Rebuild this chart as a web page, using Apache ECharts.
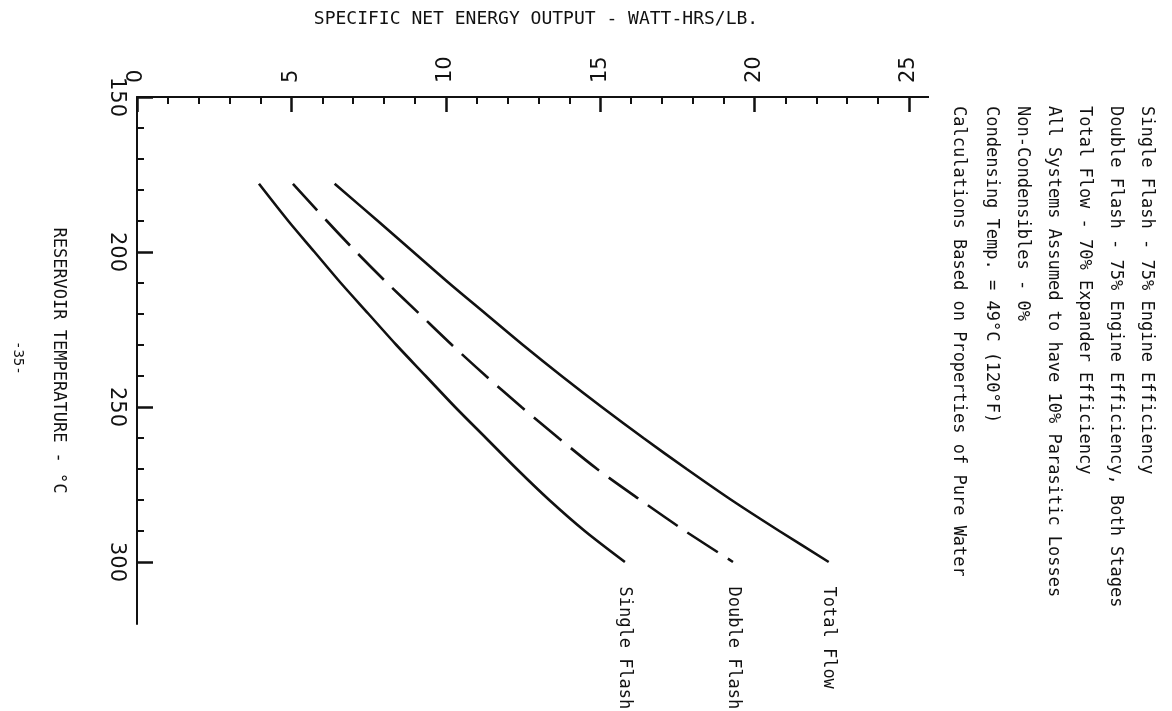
<!DOCTYPE html>
<html><head><meta charset="utf-8">
<script src="https://cdn.jsdelivr.net/npm/echarts@6/dist/echarts.min.js"></script>
<style>html,body{margin:0;background:#fff}#c{width:1172px;height:711px}</style>
</head><body><div id="c"></div>
<script>
const temps = [178, 190, 200, 210, 220, 230, 240, 250, 260, 270, 280, 290, 300];
const totalFlow = [6.4, 7.8, 8.95, 10.1, 11.3, 12.5, 13.75, 15.05, 16.4, 17.8, 19.25, 20.8, 22.4];
const doubleFlash = [5.05, 6.15, 7.1, 8.1, 9.15, 10.2, 11.3, 12.45, 13.65, 14.9, 16.3, 17.75, 19.3];
const singleFlash = [3.95, 4.9, 5.75, 6.6, 7.5, 8.4, 9.35, 10.3, 11.3, 12.3, 13.35, 14.5, 15.8];
const seriesNames = ['Total Flow', 'Double Flash', 'Single Flash'];
const majorTempTicks = [150, 200, 250, 300];
const minorTempTicks = [160, 170, 180, 190, 210, 220, 230, 240, 260, 270, 280, 290];
const notes = [
  'Single Flash - 75% Engine Efficiency',
  'Double Flash - 75% Engine Efficiency, Both Stages',
  'Total Flow - 70% Expander Efficiency',
  'All Systems Assumed to have 10% Parasitic Losses',
  'Non-Condensibles - 0%',
  'Condensing Temp. = 49°C (120°F)',
  'Calculations Based on Properties of Pure Water'
];
const xTitle = 'SPECIFIC NET ENERGY OUTPUT - WATT-HRS/LB.';
const yTitle = 'RESERVOIR TEMPERATURE - °C';
const pageNo = '-35-';

const MONO = "'DejaVu Sans Mono', 'Liberation Mono', monospace";
const SANS = "'DejaVu Sans', sans-serif";
const INK = '#111';

function mkSeries(name, vals, dashed) {
  return {
    name: name,
    type: 'line',
    xAxisIndex: 0, yAxisIndex: 0,
    smooth: 0.3,
    showSymbol: true,
    symbol: 'circle',
    symbolSize: 1,
    itemStyle: { color: 'transparent' },
    lineStyle: { color: INK, width: 2.6, type: dashed ? [36, 12] : 'solid' },
    emphasis: { disabled: true },
    label: { show: false },
    data: temps.map(function (t, i) {
      if (i === temps.length - 1) {
        return {
          value: [vals[i], t],
          label: {
            show: true, formatter: name, position: 'bottom', distance: 20,
            rotate: -90, align: 'left', verticalAlign: 'middle',
            fontFamily: MONO, fontSize: 17, color: INK, offset: [4, 0]
          }
        };
      }
      return [vals[i], t];
    })
  };
}

const chart = echarts.init(document.getElementById('c'), null, { renderer: 'canvas' });
const axisLineStyle = { color: INK, width: 2 };
chart.setOption({
  animation: false,
  backgroundColor: '#fff',
  grid: { left: 137, top: 97, width: 772, height: 527, containLabel: false, outerBoundsMode: 'none' },
  xAxis: [{
    type: 'value', position: 'top', min: 0, max: 25, interval: 5,
    axisLine: { show: true, lineStyle: axisLineStyle },
    axisTick: { show: true, inside: true, length: 15, lineStyle: { color: INK, width: 2.5 } },
    minorTick: { show: true, splitNumber: 5, length: 7, lineStyle: { color: INK, width: 2 } },
    splitLine: { show: false },
    axisLabel: { rotate: -90, fontFamily: SANS, fontSize: 21, color: INK, margin: 14 }
  }],
  yAxis: [{
    type: 'value', inverse: true, min: 150, max: 320, interval: 10,
    name: yTitle, nameLocation: 'middle', nameGap: 70, nameRotate: -90,
    nameTextStyle: { fontFamily: MONO, fontSize: 17, color: INK },
    axisLine: { show: true, lineStyle: axisLineStyle },
    axisTick: { show: true, inside: true, length: 7, customValues: minorTempTicks, lineStyle: { color: INK, width: 2 } },
    splitLine: { show: false },
    axisLabel: {
      rotate: -90, fontFamily: SANS, fontSize: 21, color: INK, margin: 10,
      customValues: majorTempTicks,
      formatter: function (v) { return majorTempTicks.indexOf(v) >= 0 ? String(v) : ''; }
    }
  }, {
    type: 'value', inverse: true, min: 150, max: 320, interval: 50, position: 'left',
    axisLine: { show: false },
    axisTick: { show: true, inside: true, length: 16, customValues: majorTempTicks, lineStyle: { color: INK, width: 2.5 } },
    axisLabel: { show: false },
    splitLine: { show: false }
  }],
  series: [
    mkSeries(seriesNames[0], totalFlow, false),
    mkSeries(seriesNames[1], doubleFlash, true),
    mkSeries(seriesNames[2], singleFlash, false)
  ]
});

const end = chart.convertToPixel({ xAxisIndex: 0, yAxisIndex: 0 }, [25, 150]);
const noteX = [1146, 1115, 1084, 1053, 1022, 991, 958];
const graphics = [{
  type: 'line', shape: { x1: end[0], y1: end[1], x2: end[0] + 20, y2: end[1] },
  style: { stroke: INK, lineWidth: 2 }
}, {
  type: 'text', x: 536, y: 19,
  style: { text: xTitle, font: "18px " + MONO, fill: INK, textAlign: 'center', textVerticalAlign: 'middle' }
}, {
  type: 'text', x: 18, y: 341, rotation: -Math.PI / 2,
  style: { text: pageNo, font: "14px " + MONO, fill: INK, textAlign: 'left', textVerticalAlign: 'middle' }
}];
notes.forEach(function (s, i) {
  graphics.push({
    type: 'text', x: noteX[i], y: 106, rotation: -Math.PI / 2,
    style: { text: s, font: "17px " + MONO, fill: INK, textAlign: 'left', textVerticalAlign: 'middle' }
  });
});
chart.setOption({ graphic: graphics });
</script></body></html>
